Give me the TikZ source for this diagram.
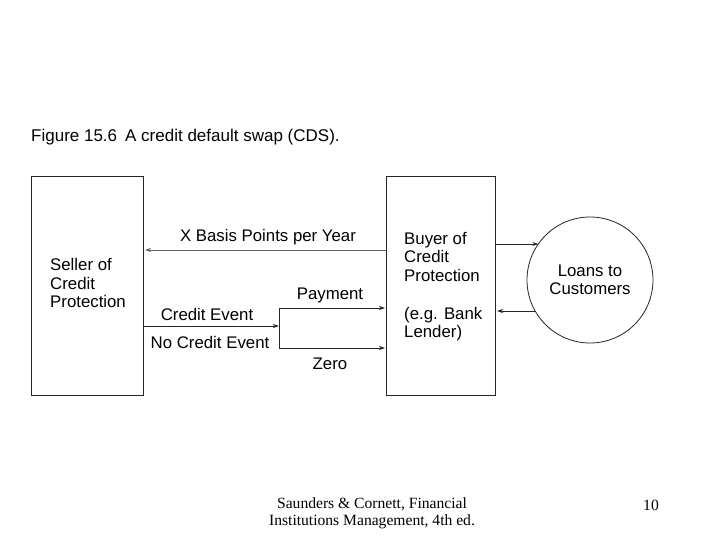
\documentclass[tikz,border=0pt]{standalone}
\usepackage{fontspec}
\setmainfont{Liberation Sans}
\newfontfamily\timesf{Liberation Serif}
\usetikzlibrary{arrows.meta}
\begin{document}
\begin{tikzpicture}[x=1pt,y=-1pt,
  box/.style={draw=black!85,line width=0.8pt,inner sep=0pt},
  lbl/.style={inner sep=0pt,font=\fontsize{16.8}{18.6}\selectfont},
  ttl/.style={inner sep=0pt,anchor=base west,font=\fontsize{17}{18}\selectfont},
  arr/.style={draw=black!85,line width=0.8pt,-{Stealth[length=6pt,width=4pt]}},
  foot/.style={inner sep=0pt,font=\timesf\fontsize{15.6}{17}\selectfont}]
\useasboundingbox[fill=white] (0,0) rectangle (720,540);
\node[ttl] (title) at (31,142) {Figure 15.6};
\node[ttl] (titletext) at (125,142) {A credit default swap (CDS).};
% boxes
\draw[box] (31,176) rectangle (143,395);
\draw[box] (386,176) rectangle (495,395);
\node[draw=black!85,line width=0.8pt,circle,minimum size=126pt,inner sep=0pt,outer sep=0pt] (loans) at (590,280) {};
% texts
\node[lbl,anchor=west,align=left] (seller) at (50,283) {Seller of\\Credit\\Protection};
\node[lbl,anchor=north west,align=left] (buyer) at (404,232) {Buyer of\\Credit\\Protection};
\node[lbl,anchor=north west,align=left] (eg) at (404,307) {(e.g. Bank\\Lender)};
\node[lbl,align=center] (loanst) at (590,280) {Loans to\\Customers};
% coordinates
\coordinate (xbR) at (386,250);
\coordinate (xbL) at (145,250);
\coordinate (ceL) at (143,326);
\coordinate (ceR) at (279,326);
\coordinate (payL) at (279,308);
\coordinate (payR) at (385,308);
\coordinate (zeroL) at (279,348);
\coordinate (zeroR) at (385,348);
\coordinate (bt) at (495,244);
\coordinate (bb) at (497,311);
% arrows
\draw[arr,draw=black!60] (xbR) -- (xbL);
\node[lbl] (xbl) at (268,237) {X Basis Points per Year};
\draw[arr] (ceL) -- (ceR);
\draw[draw=black!85,line width=0.8pt] (zeroL) -- (payL);
\draw[arr] (payL) -- (payR);
\draw[arr] (zeroL) -- (zeroR);
\node[lbl] (ce) at (207,314) {Credit Event};
\node[lbl] (nce) at (210,342) {No Credit Event};
\node[lbl] (pay) at (330,295) {Payment};
\node[lbl] (zero) at (330,364) {Zero};
\draw[arr] (bt) -- (bt -| loans.145.2);
\draw[arr] (bb -| loans.209.5) -- (bb);
% footer
\node[foot,align=center] (f1) at (372,513) {Saunders \& Cornett, Financial\\Institutions Management, 4th ed.};
\node[foot] (pg) at (651,505) {10};
\end{tikzpicture}
\end{document}
